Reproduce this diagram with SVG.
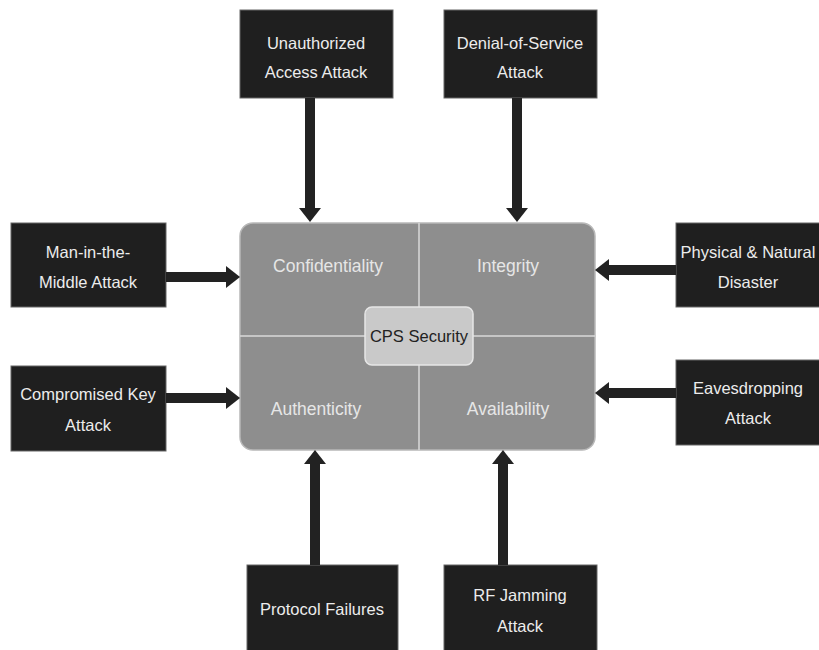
<svg xmlns="http://www.w3.org/2000/svg" width="819" height="650" viewBox="0 0 819 650">
<style>
.box{fill:#1f1f1f;stroke:#666;stroke-width:1}
.bt{fill:#ececec;font-family:"Liberation Sans",Arial,sans-serif;font-size:16.5px;text-anchor:middle}
.qt{fill:#e6e6e6;font-family:"Liberation Sans",Arial,sans-serif;font-size:17.5px;text-anchor:middle}
.arr{stroke:#222;stroke-width:10;fill:none;marker-end:url(#ah)}
</style>
<defs>
<marker id="ah" markerUnits="userSpaceOnUse" markerWidth="14" markerHeight="22" refX="0" refY="11" orient="auto">
<path d="M0,0 L14,11 L0,22 z" fill="#222"/>
</marker>
</defs>
<rect width="819" height="650" fill="#ffffff"/>
<g id="core">
<rect x="240" y="223" width="355" height="227" rx="13" fill="#8e8e8e" stroke="#b8b8b8" stroke-width="1.5"/>
<line x1="419" y1="223" x2="419" y2="450" stroke="#d8d8d8" stroke-width="1.5"/>
<line x1="240" y1="336" x2="595" y2="336" stroke="#d8d8d8" stroke-width="1.5"/>
<text class="qt" x="328" y="272">Confidentiality</text>
<text class="qt" x="508" y="272">Integrity</text>
<text class="qt" x="316" y="415">Authenticity</text>
<text class="qt" x="508" y="415">Availability</text>
</g>
<g id="cps">
<rect x="365" y="307" width="108" height="58" rx="7" fill="#c9c9c9" stroke="#e6e6e6" stroke-width="1.5"/>
<text x="419" y="342" font-family="Liberation Sans,Arial,sans-serif" font-size="16.5" fill="#222" text-anchor="middle">CPS Security</text>
</g>
<g id="unauth">
<rect class="box" x="240" y="10" width="153" height="88"/>
<text class="bt" x="316" y="49">Unauthorized</text>
<text class="bt" x="316" y="78">Access Attack</text>
</g>
<g id="dos">
<rect class="box" x="444" y="10" width="153" height="88"/>
<text class="bt" x="520" y="49">Denial-of-Service</text>
<text class="bt" x="520" y="78">Attack</text>
</g>
<g id="mitm">
<rect class="box" x="11" y="223" width="155" height="84"/>
<text class="bt" x="88" y="258">Man-in-the-</text>
<text class="bt" x="88" y="288">Middle Attack</text>
</g>
<g id="ckey">
<rect class="box" x="11" y="366" width="155" height="85"/>
<text class="bt" x="88" y="400">Compromised Key</text>
<text class="bt" x="88" y="431">Attack</text>
</g>
<g id="phys">
<rect class="box" x="676" y="223" width="150" height="84"/>
<text class="bt" x="748" y="258">Physical &amp; Natural</text>
<text class="bt" x="748" y="288">Disaster</text>
</g>
<g id="eaves">
<rect class="box" x="676" y="360" width="150" height="85"/>
<text class="bt" x="748" y="394">Eavesdropping</text>
<text class="bt" x="748" y="424">Attack</text>
</g>
<g id="proto">
<rect class="box" x="247" y="565" width="151" height="90"/>
<text class="bt" x="322" y="615">Protocol Failures</text>
</g>
<g id="rfjam">
<rect class="box" x="444" y="565" width="153" height="90"/>
<text class="bt" x="520" y="601">RF Jamming</text>
<text class="bt" x="520" y="632">Attack</text>
</g>
<g id="connectors">
<line class="arr" x1="310" y1="98" x2="310" y2="208"/>
<line class="arr" x1="517" y1="98" x2="517" y2="208"/>
<line class="arr" x1="166" y1="277" x2="226" y2="277"/>
<line class="arr" x1="166" y1="398" x2="226" y2="398"/>
<line class="arr" x1="676" y1="270" x2="609" y2="270"/>
<line class="arr" x1="676" y1="393" x2="609" y2="393"/>
<line class="arr" x1="315" y1="565" x2="315" y2="464"/>
<line class="arr" x1="503" y1="565" x2="503" y2="464"/>
</g>
</svg>
